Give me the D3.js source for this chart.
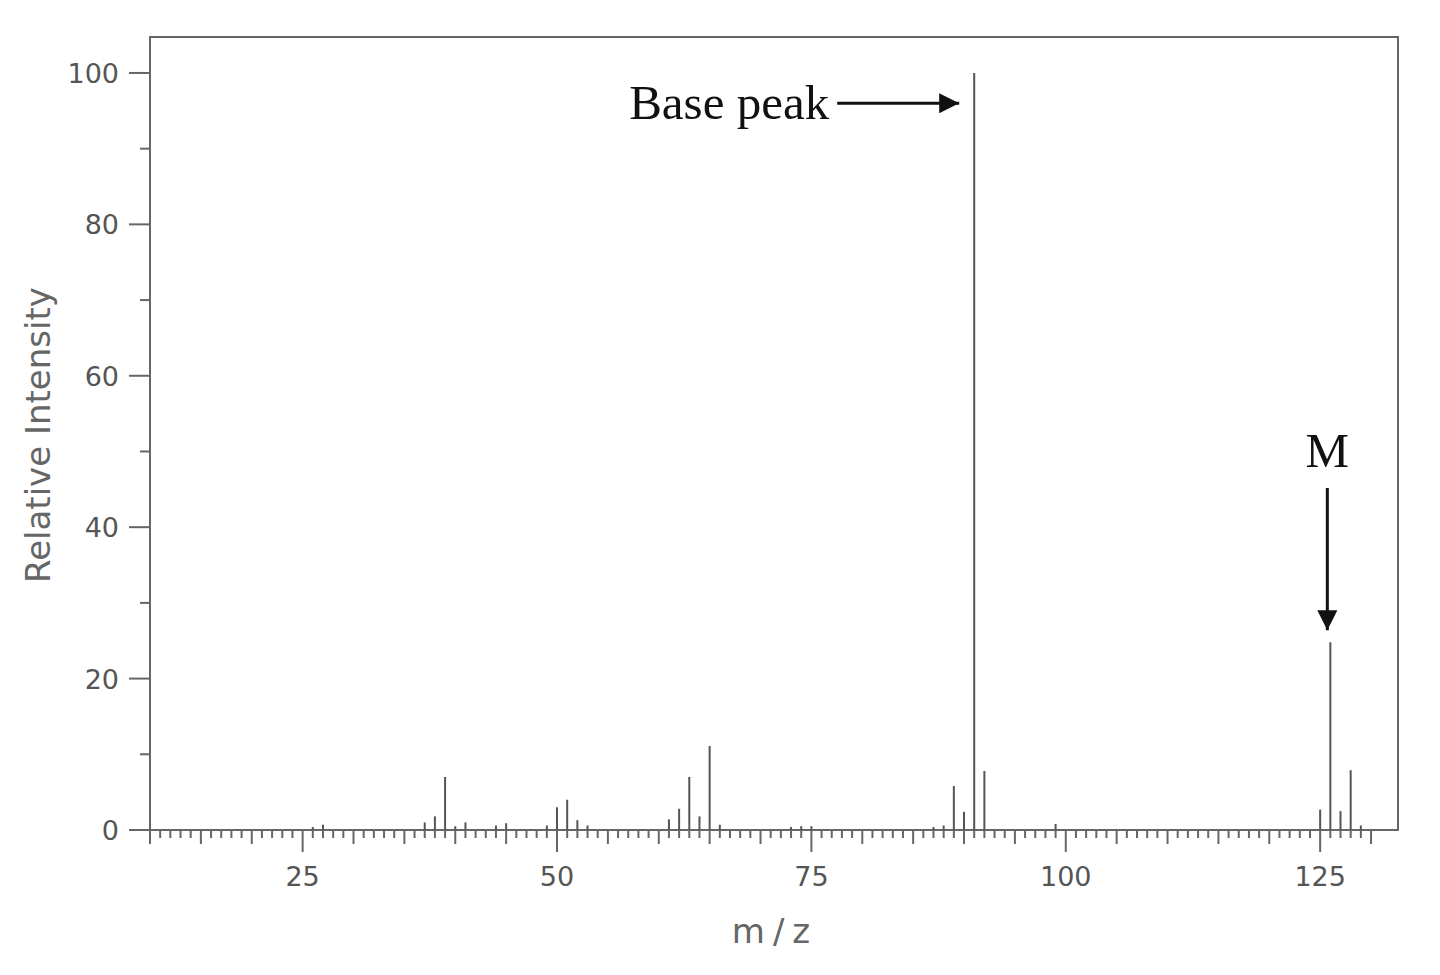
<!DOCTYPE html>
<html lang="en">
<head>
    <meta charset="UTF-8">
    <title>Mass spectrum</title>
    <script src="https://cdn.jsdelivr.net/npm/d3@7/dist/d3.min.js"></script>
    <style>
        body { margin: 0; background: #fff; }
        .peak { stroke: #555; stroke-width: 2px; }
        .frame { fill: none; stroke: #666; stroke-width: 2px; }
        .tick-label { font-family: "DejaVu Sans", sans-serif; font-size: 27px; fill: #555; }
        .axis-title { font-family: "DejaVu Sans", sans-serif; font-size: 34px; fill: #666; }
        .note { font-family: "Liberation Serif", serif; font-size: 49px; fill: #111; }
    </style>
</head>
<body>
    <svg width=1440 height=975></svg>
    <script>
        // peaks (m/z, relative intensity)
        var mz        = [26, 27, 37, 38, 39, 40, 41, 44, 45, 49, 50, 51, 52, 53, 61, 62, 63, 64, 65, 66, 73, 74, 75, 87, 88, 89, 90, 91, 92, 99, 125, 126, 127, 128, 129],
            intensity = [0.4, 0.7, 1.0, 1.8, 7.0, 0.5, 1.0, 0.6, 0.9, 0.6, 3.0, 4.0, 1.3, 0.6, 1.4, 2.8, 7.0, 1.8, 11.1, 0.7, 0.4, 0.5, 0.5, 0.4, 0.6, 5.8, 2.4, 100, 7.8, 0.8, 2.7, 24.8, 2.5, 7.9, 0.6],
            xLabels   = [25, 50, 75, 100, 125],
            yLabels   = [0, 20, 40, 60, 80, 100],
            baseMz = 91,
            molMz = 126;

        var svg = d3.select('svg'),
            plot = { left: 150, right: 1398, top: 37, bottom: 830 },
            xScale = d3.scaleLinear().domain([10, 132.65]).range([plot.left, plot.right]),
            yScale = d3.scaleLinear().domain([0, 104.75]).range([plot.bottom, plot.top]);

        // frame
        svg.append('rect')
            .classed('frame', true)
            .attr('x', plot.left).attr('y', plot.top)
            .attr('width', plot.right - plot.left).attr('height', plot.bottom - plot.top);

        // x ticks: every unit, longer every 5 and 25
        var xTicks = d3.range(10, 131, 1);
        svg.append('g').selectAll('line')
            .data(xTicks)
            .enter().append('line')
            .attr('x1', function(d) { return xScale(d); })
            .attr('x2', function(d) { return xScale(d); })
            .attr('y1', plot.bottom)
            .attr('y2', function(d) { return plot.bottom + (d % 25 === 0 ? 22 : d % 5 === 0 ? 14 : 8); })
            .attr('stroke', '#666')
            .attr('stroke-width', 2);

        svg.append('g').selectAll('text')
            .data(xLabels)
            .enter().append('text')
            .classed('tick-label', true)
            .attr('x', function(d) { return xScale(d); })
            .attr('y', plot.bottom + 56)
            .attr('text-anchor', 'middle')
            .text(function(d) { return d; });

        // y ticks
        var yTicks = d3.range(0, 101, 10);
        svg.append('g').selectAll('line')
            .data(yTicks)
            .enter().append('line')
            .attr('x1', plot.left)
            .attr('x2', function(d) { return plot.left - (d % 20 === 0 ? 21 : 10); })
            .attr('y1', function(d) { return yScale(d); })
            .attr('y2', function(d) { return yScale(d); })
            .attr('stroke', '#666')
            .attr('stroke-width', 2);

        svg.append('g').selectAll('text')
            .data(yLabels)
            .enter().append('text')
            .classed('tick-label', true)
            .attr('x', plot.left - 31)
            .attr('y', function(d) { return yScale(d) + 10; })
            .attr('text-anchor', 'end')
            .text(function(d) { return d; });

        // peaks
        svg.append('g').selectAll('line')
            .data(mz)
            .enter().append('line')
            .classed('peak', true)
            .attr('x1', function(d) { return xScale(d); })
            .attr('x2', function(d) { return xScale(d); })
            .attr('y1', plot.bottom)
            .attr('y2', function(d, i) { return yScale(intensity[i]); });

        // axis titles
        svg.append('text')
            .classed('axis-title', true)
            .attr('transform', 'translate(50,435) rotate(-90)')
            .attr('text-anchor', 'middle')
            .text('Relative Intensity');

        svg.append('text')
            .classed('axis-title', true)
            .attr('x', 775)
            .attr('y', 943)
            .attr('text-anchor', 'middle')
            .attr('font-size', 36)
            .attr('letter-spacing', 8)
            .text('m/z');

        // annotations
        svg.append('defs').append('marker')
            .attr('id', 'head')
            .attr('viewBox', '0 0 10 10')
            .attr('refX', 10).attr('refY', 5)
            .attr('markerWidth', 34).attr('markerHeight', 20)
            .attr('markerUnits', 'userSpaceOnUse')
            .attr('orient', 'auto')
            .append('path')
            .attr('d', 'M0,0 L10,5 L0,10 Z')
            .attr('fill', '#111');

        var baseY = yScale(96);
        svg.append('text')
            .classed('note', true)
            .attr('x', xScale(baseMz) - 145)
            .attr('y', baseY + 16)
            .attr('text-anchor', 'end')
            .text('Base peak');

        svg.append('line')
            .attr('x1', xScale(baseMz) - 137).attr('y1', baseY)
            .attr('x2', xScale(baseMz) - 15).attr('y2', baseY)
            .attr('stroke', '#111').attr('stroke-width', 3)
            .attr('marker-end', 'url(#head)');

        var molX = xScale(molMz) - 3;
        svg.append('text')
            .classed('note', true)
            .attr('x', molX)
            .attr('y', 467)
            .attr('text-anchor', 'middle')
            .text('M');

        svg.append('line')
            .attr('x1', molX).attr('y1', 488)
            .attr('x2', molX).attr('y2', yScale(intensity[mz.indexOf(molMz)]) - 12)
            .attr('stroke', '#111').attr('stroke-width', 3)
            .attr('marker-end', 'url(#head)');
    </script>
</body>
</html>
